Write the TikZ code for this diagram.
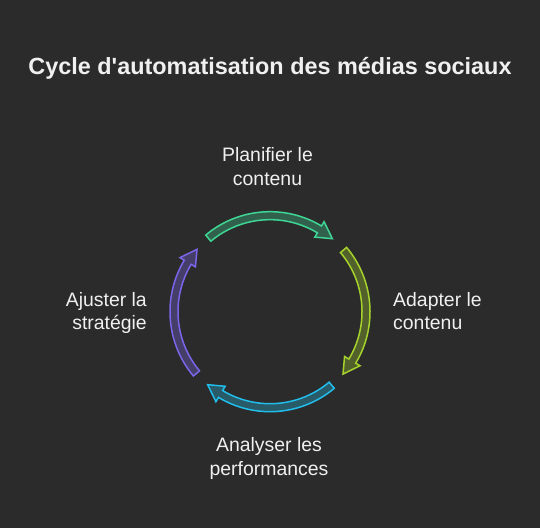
\documentclass[tikz,border=0pt]{standalone}
\usepackage{fontspec}
\setmainfont{Liberation Sans}[Ligatures=TeXOff]
\definecolor{bg}{HTML}{2B2B2B}
\definecolor{txt}{HTML}{F0F0F0}
\definecolor{cgreen}{HTML}{3ED595}
\definecolor{cyellow}{HTML}{A6D22C}
\definecolor{cblue}{HTML}{22BDEB}
\definecolor{cpurple}{HTML}{7A66EA}
\tikzset{
  lbl/.style={text=txt, inner sep=0pt, font=\fontsize{19.5}{23.5}\selectfont},
  ttl/.style={text=txt, inner sep=0pt, font=\bfseries\fontsize{23.5}{28}\selectfont},
}
\newcommand\cyclearrow[3]{%
  \pgfmathsetmacro\hb{#3+9.5}%
  \filldraw[draw=#1, fill=#1!32!bg, line width=1.5bp, line join=miter]
    ([shift={(#2:100bp)}]c) arc[start angle=#2, end angle=\hb, radius=100bp]
    -- ([shift={(\hb:105bp)}]c) -- ([shift={(#3:96bp)}]c) -- ([shift={(\hb:87bp)}]c)
    -- ([shift={(\hb:92bp)}]c) arc[start angle=\hb, end angle=#2, radius=92bp] -- cycle;}
\begin{document}
\begin{tikzpicture}[x=1bp,y=1bp]
\fill[bg] (0,0) rectangle (540,528);
\useasboundingbox (0,0) rectangle (540,528);
\coordinate (c) at (270,216.3);
\node[ttl, anchor=base] (title) at (270,453.7) {Cycle d'automatisation des médias sociaux};
\cyclearrow{cgreen}{130}{49.5}
\cyclearrow{cyellow}{40}{-40.5}
\cyclearrow{cblue}{-50}{-130.5}
\cyclearrow{cpurple}{220}{139.5}
\node[lbl, anchor=base, align=center] (plan) at (267.5,342.8) {Planifier le\\contenu};
\node[lbl, anchor=base west, align=left] (adapt) at (393,198) {Adapter le\\contenu};
\node[lbl, anchor=base, align=center] (analyse) at (269,52.8) {Analyser les\\performances};
\node[lbl, anchor=base east, align=right] (ajust) at (147,198) {Ajuster la\\stratégie};
\end{tikzpicture}
\end{document}
